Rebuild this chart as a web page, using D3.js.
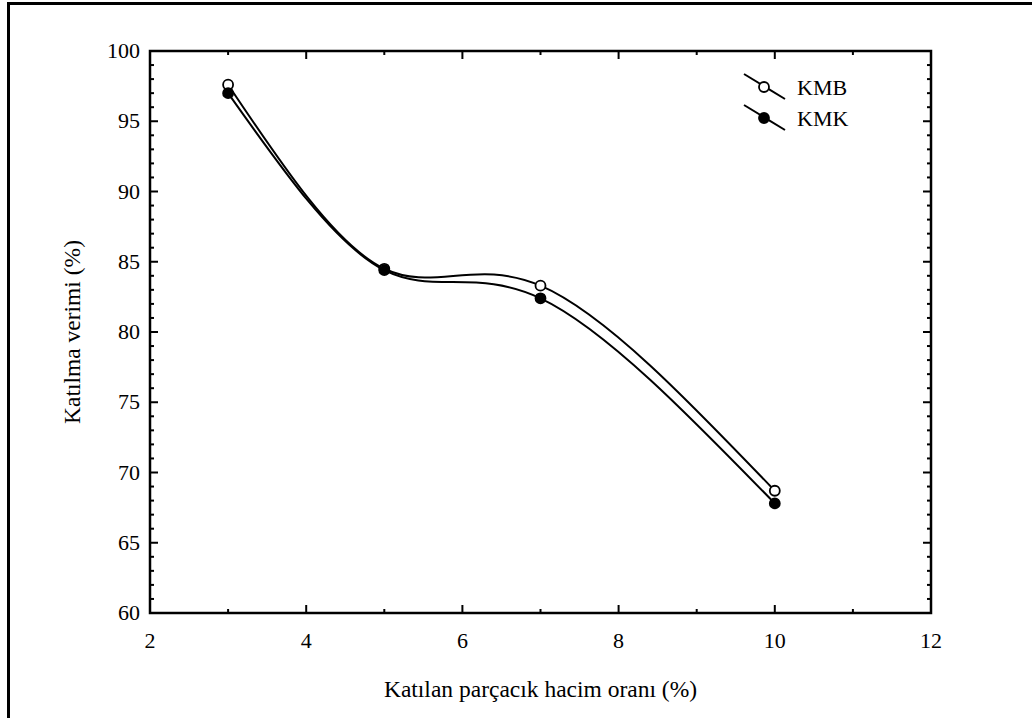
<!DOCTYPE html>
<html>
<head>
<meta charset="utf-8">
<script src="https://cdn.jsdelivr.net/npm/d3@7"></script>
<style>
  body { margin: 0; background: #fff; }
  svg text { font-family: "Liberation Serif", "Times New Roman", serif; fill: #000; }
</style>
</head>
<body>
<svg id="chart"></svg>
<script>
var xValues = [3, 5, 7, 10];
var kmbValues = [97.6, 84.5, 83.3, 68.7];
var kmkValues = [97.0, 84.4, 82.4, 67.8];
var seriesNames = ["KMB", "KMK"];
var xTicks = [2, 4, 6, 8, 10, 12];
var yTicks = [60, 65, 70, 75, 80, 85, 90, 95, 100];

var w = 1032, h = 718;
var padding = { top: 51, bottom: 105, left: 150, right: 101 };

var svg = d3.select("#chart").attr("width", w).attr("height", h);

// outer frame (right/bottom edges fall outside the picture)
svg.append("rect")
  .attr("x", 8.5).attr("y", 3.5)
  .attr("width", 1100).attr("height", 800)
  .attr("fill", "none").attr("stroke", "#000").attr("stroke-width", 3);

var xscale = d3.scaleLinear().domain([2, 12]).range([padding.left, w - padding.right]);
var yscale = d3.scaleLinear().domain([60, 100]).range([h - padding.bottom, padding.top]);

var g = svg.append("g");

// ticks pointing inward on all four sides
var xMinor = d3.range(2, 12.01, 1), yMinor = d3.range(60, 100.01, 1);
function tickLen(v, step) { return (Math.abs(v / step - Math.round(v / step)) < 1e-6) ? 8 : 4; }

xMinor.forEach(function(v) {
  var L = tickLen(v, 2), x = xscale(v);
  g.append("line").attr("x1", x).attr("x2", x).attr("y1", yscale(60)).attr("y2", yscale(60) - L);
  g.append("line").attr("x1", x).attr("x2", x).attr("y1", yscale(100)).attr("y2", yscale(100) + L);
});
yMinor.forEach(function(v) {
  var L = tickLen(v, 5), y = yscale(v);
  g.append("line").attr("y1", y).attr("y2", y).attr("x1", xscale(2)).attr("x2", xscale(2) + L);
  g.append("line").attr("y1", y).attr("y2", y).attr("x1", xscale(12)).attr("x2", xscale(12) - L);
});
g.selectAll("line").attr("stroke", "#000").attr("stroke-width", 2);

g.append("rect")
  .attr("x", xscale(2)).attr("y", yscale(100))
  .attr("width", xscale(12) - xscale(2)).attr("height", yscale(60) - yscale(100))
  .attr("fill", "none").attr("stroke", "#000").attr("stroke-width", 2.5);

// tick labels
g.selectAll(".xlab").data(xTicks).enter().append("text")
  .attr("x", function(d) { return xscale(d); })
  .attr("y", yscale(60) + 35)
  .attr("text-anchor", "middle").attr("font-size", 22)
  .text(function(d) { return d; });

g.selectAll(".ylab").data(yTicks).enter().append("text")
  .attr("x", xscale(2) - 10)
  .attr("y", function(d) { return yscale(d) + 7; })
  .attr("text-anchor", "end").attr("font-size", 22)
  .text(function(d) { return d; });

// axis titles
svg.append("text")
  .attr("x", (xscale(2) + xscale(12)) / 2).attr("y", 697)
  .attr("text-anchor", "middle").attr("font-size", 23.5)
  .text("Katılan parçacık hacim oranı (%)");

svg.append("text")
  .attr("transform", "translate(80," + ((yscale(60) + yscale(100)) / 2) + ") rotate(-90)")
  .attr("text-anchor", "middle").attr("font-size", 23.5)
  .text("Katılma verimi (%)");

// curves
var line = d3.line()
  .x(function(d) { return xscale(d[0]); })
  .y(function(d) { return yscale(d[1]); })
  .curve(d3.curveNatural);

var series = [
  { name: seriesNames[0], values: kmbValues, fill: "#fff" },
  { name: seriesNames[1], values: kmkValues, fill: "#000" }
];

series.forEach(function(s) {
  var pts = xValues.map(function(x, i) { return [x, s.values[i]]; });
  g.append("path").attr("d", line(pts))
    .attr("fill", "none").attr("stroke", "#000").attr("stroke-width", 2);
});
series.forEach(function(s) {
  g.selectAll(null).data(xValues).enter().append("circle")
    .attr("cx", function(d) { return xscale(d); })
    .attr("cy", function(d, i) { return yscale(s.values[i]); })
    .attr("r", 5)
    .attr("fill", s.fill).attr("stroke", "#000").attr("stroke-width", 1.8);
});

// legend
var legend = svg.append("g").attr("transform", "translate(744,74)");
series.forEach(function(s, i) {
  var row = legend.append("g").attr("transform", "translate(0," + (i * 31) + ")");
  row.append("line").attr("x1", 0).attr("y1", 0).attr("x2", 41).attr("y2", 25)
    .attr("stroke", "#000").attr("stroke-width", 2);
  row.append("circle").attr("cx", 20).attr("cy", 13).attr("r", 5)
    .attr("fill", s.fill).attr("stroke", "#000").attr("stroke-width", 1.8);
  row.append("text").attr("x", 53).attr("y", 21).attr("font-size", 22).text(s.name);
});
</script>
</body>
</html>
